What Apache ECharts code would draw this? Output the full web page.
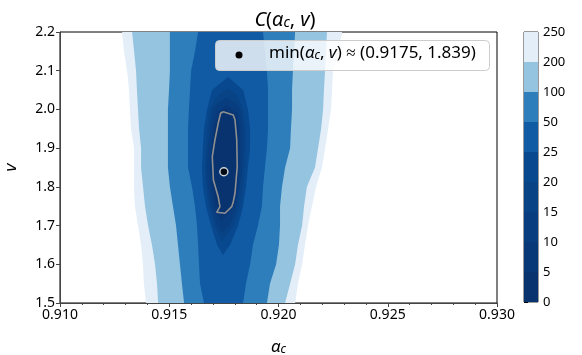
<!DOCTYPE html>
<html>
<head>
<meta charset="utf-8">
<script src="https://cdn.jsdelivr.net/npm/echarts@6/dist/echarts.min.js"></script>
<style>
  html, body { margin: 0; padding: 0; background: #fff; }
  #chart { width: 582px; height: 355px; }
</style>
</head>
<body>
<div id="chart"></div>
<script>
// axis ticks
var xTicks = [0.910, 0.915, 0.920, 0.925, 0.930];
var yTicks = [1.5, 1.6, 1.7, 1.8, 1.9, 2.0, 2.1, 2.2];

// colour bar levels and band colours (Blues_r, bottom to top)
var cbLevels = ["0", "5", "10", "15", "20", "25", "50", "100", "200", "250"];
var cbColors = ["#08336f", "#083877", "#083d7f", "#084386", "#08488e",
                "#105ba4", "#2e7ebc", "#94c4df", "#e3eef9"];
var cbBands = [0, 1, 2, 3, 4, 5, 6, 7, 8];

// contour boundaries: v rows and alpha_c left/right edges per level
var rowsOuter = [1.50, 1.55, 1.60, 1.65, 1.70, 1.75, 1.80, 1.85, 1.90, 1.95, 2.00, 2.05, 2.10, 2.15, 2.20];

var lev250L = [0.91394, 0.91384, 0.91380, 0.91371, 0.91357, 0.91343, 0.91339, 0.91339, 0.91339, 0.91325, 0.91320, 0.91316, 0.91307, 0.91293, 0.91284];
var lev250R = [0.92076, 0.92089, 0.92108, 0.92121, 0.92135, 0.92153, 0.92172, 0.92199, 0.92213, 0.92227, 0.92240, 0.92245, 0.92249, 0.92272, 0.92291];

var lev200L = [0.91449, 0.91444, 0.91435, 0.91421, 0.91403, 0.91389, 0.91380, 0.91371, 0.91371, 0.91362, 0.91357, 0.91352, 0.91348, 0.91339, 0.91330];
var lev200R = [0.92030, 0.92053, 0.92076, 0.92089, 0.92108, 0.92117, 0.92130, 0.92167, 0.92181, 0.92195, 0.92204, 0.92208, 0.92213, 0.92217, 0.92222];

var lev100L = [0.91568, 0.91558, 0.91549, 0.91540, 0.91531, 0.91517, 0.91503, 0.91494, 0.91494, 0.91494, 0.91494, 0.91499, 0.91503, 0.91503, 0.91503];
var lev100R = [0.91947, 0.91961, 0.91989, 0.92002, 0.92007, 0.92007, 0.92016, 0.92030, 0.92053, 0.92057, 0.92062, 0.92062, 0.92066, 0.92071, 0.92076];

var lev50L = [0.91659, 0.91641, 0.91636, 0.91632, 0.91627, 0.91618, 0.91604, 0.91586, 0.91586, 0.91586, 0.91590, 0.91595, 0.91600, 0.91618, 0.91632];
var lev50R = [0.91838, 0.91851, 0.91870, 0.91883, 0.91906, 0.91924, 0.91929, 0.91938, 0.91947, 0.91952, 0.91952, 0.91952, 0.91947, 0.91938, 0.91929];

var rows25 = [1.624, 1.65, 1.70, 1.75, 1.80, 1.85, 1.90, 1.95, 2.00, 2.05, 2.084];
var lev25L = [0.91746, 0.91719, 0.91691, 0.91668, 0.91654, 0.91650, 0.91654, 0.91659, 0.91673, 0.91696, 0.91769];
var lev25R = [0.91746, 0.91778, 0.91815, 0.91838, 0.91851, 0.91860, 0.91870, 0.91870, 0.91860, 0.91838, 0.91769];

var rows20 = [1.658, 1.70, 1.75, 1.80, 1.85, 1.90, 1.95, 2.00, 2.037, 2.055];
var lev20L = [0.91741, 0.91705, 0.91682, 0.91668, 0.91664, 0.91668, 0.91673, 0.91686, 0.91723, 0.91769];
var lev20R = [0.91741, 0.91796, 0.91824, 0.91838, 0.91847, 0.91851, 0.91851, 0.91838, 0.91810, 0.91769];

var rows15 = [1.683, 1.70, 1.75, 1.80, 1.85, 1.90, 1.95, 2.00, 2.017, 2.030];
var lev15L = [0.91741, 0.91719, 0.91691, 0.91677, 0.91673, 0.91677, 0.91686, 0.91700, 0.91723, 0.91764];
var lev15R = [0.91741, 0.91778, 0.91810, 0.91824, 0.91833, 0.91838, 0.91838, 0.91824, 0.91805, 0.91764];

var rows10 = [1.709, 1.75, 1.80, 1.85, 1.90, 1.95, 1.993, 2.011];
var lev10L = [0.91737, 0.91705, 0.91691, 0.91686, 0.91691, 0.91700, 0.91719, 0.91760];
var lev10R = [0.91737, 0.91801, 0.91815, 0.91824, 0.91824, 0.91824, 0.91810, 0.91760];

var rows5 = [1.727, 1.75, 1.80, 1.85, 1.90, 1.95, 1.986, 1.999];
var lev5L = [0.91741, 0.91719, 0.91700, 0.91696, 0.91700, 0.91709, 0.91728, 0.91755];
var lev5R = [0.91741, 0.91792, 0.91805, 0.91810, 0.91815, 0.91815, 0.91801, 0.91755];

// gray contour line (closed)
var lineAlpha = [0.91747, 0.91793, 0.91801, 0.91809, 0.91811, 0.91801, 0.91793, 0.91786, 0.91755, 0.91717,
                 0.91732, 0.91724, 0.91702, 0.91697, 0.91709, 0.91724, 0.91735, 0.91747];
var lineV = [1.9941, 1.9856, 1.9727, 1.9210, 1.8521, 1.7841, 1.7617, 1.7488, 1.7317, 1.7343,
             1.7488, 1.7746, 1.8177, 1.8779, 1.9210, 1.9642, 1.9900, 1.9941];

// minimum point
var minAlpha = [0.9175];
var minV = [1.839];

var FONT = "Noto Sans";

function bandSeries(rows, left, right, color) {
  return {
    type: "custom",
    xAxisIndex: 0,
    yAxisIndex: 0,
    silent: true,
    clip: true,
    z: 1,
    data: [[left[0], rows[0]]],
    renderItem: function (params, api) {
      var pts = [];
      for (var i = 0; i < rows.length; i++) pts.push(api.coord([left[i], rows[i]]));
      for (var j = rows.length - 1; j >= 0; j--) pts.push(api.coord([right[j], rows[j]]));
      return { type: "polygon", shape: { points: pts }, style: { fill: color } };
    }
  };
}

var chart = echarts.init(document.getElementById("chart"), null, { renderer: "canvas" });

var series = [
  bandSeries(rowsOuter, lev250L, lev250R, cbColors[8]),
  bandSeries(rowsOuter, lev200L, lev200R, cbColors[7]),
  bandSeries(rowsOuter, lev100L, lev100R, cbColors[6]),
  bandSeries(rowsOuter, lev50L, lev50R, cbColors[5]),
  bandSeries(rows25, lev25L, lev25R, cbColors[4]),
  bandSeries(rows20, lev20L, lev20R, cbColors[3]),
  bandSeries(rows15, lev15L, lev15R, cbColors[2]),
  bandSeries(rows10, lev10L, lev10R, cbColors[1]),
  bandSeries(rows5, lev5L, lev5R, cbColors[0]),
  {
    type: "line",
    xAxisIndex: 0,
    yAxisIndex: 0,
    silent: true,
    showSymbol: false,
    z: 2,
    data: lineAlpha.map(function (a, i) { return [a, lineV[i]]; }),
    lineStyle: { color: "#909090", width: 1.6 }
  },
  {
    type: "scatter",
    xAxisIndex: 0,
    yAxisIndex: 0,
    z: 3,
    data: minAlpha.map(function (a, i) { return [a, minV[i]]; }),
    symbolSize: 8,
    itemStyle: { color: "#000", borderColor: "#fff", borderWidth: 1.5 }
  },
  {
    // colour bar
    type: "custom",
    xAxisIndex: 1,
    yAxisIndex: 1,
    silent: true,
    data: cbBands.map(function (b) { return [0, b]; }),
    renderItem: function (params, api) {
      var b = api.value(1);
      var p0 = api.coord([0, b]);
      var p1 = api.coord([1, b + 1]);
      return {
        type: "rect",
        shape: { x: p0[0], y: p1[1], width: p1[0] - p0[0], height: p0[1] - p1[1] },
        style: { fill: cbColors[b] }
      };
    }
  }
];

var legendRich = {
  n: { fontFamily: FONT, fontSize: 17, fill: "#000", verticalAlign: "bottom", lineHeight: 21 },
  i: { fontFamily: FONT, fontSize: 17, fontStyle: "italic", fill: "#000", verticalAlign: "bottom", lineHeight: 21 },
  s: { fontFamily: FONT, fontSize: 12, fontStyle: "italic", fill: "#000", verticalAlign: "bottom", lineHeight: 14 }
};

var option = {
  animation: false,
  title: {
    text: "{i|C}{n|(}{i|α}{s|c}{n|, }{i|v}{n|)}",
    left: 280,
    top: 0,
    textAlign: "center",
    textStyle: {
      fontWeight: "normal",
      rich: {
        i: { fontFamily: FONT, fontSize: 20, fontStyle: "italic", fontWeight: "normal", color: "#000", verticalAlign: "bottom", lineHeight: 25 },
        n: { fontFamily: FONT, fontSize: 20, fontWeight: "normal", color: "#000", verticalAlign: "bottom", lineHeight: 25 },
        s: { fontFamily: FONT, fontSize: 14, fontStyle: "italic", fontWeight: "normal", color: "#000", verticalAlign: "bottom", lineHeight: 16 }
      }
    }
  },
  grid: [
    { left: 60, top: 32, width: 437, height: 271, outerBoundsMode: "none", show: true, borderColor: "#000", borderWidth: 1, backgroundColor: "transparent" },
    { left: 524, top: 32, width: 14, height: 270, outerBoundsMode: "none", show: true, borderColor: "#000", borderWidth: 0.8, backgroundColor: "transparent" }
  ],
  xAxis: [
    {
      gridIndex: 0,
      type: "value",
      min: xTicks[0],
      max: xTicks[xTicks.length - 1],
      interval: 0.005,
      name: "{i|α}{s|c}",
      nameLocation: "middle",
      nameGap: 32,
      nameTextStyle: {
        rich: {
          i: { fontFamily: FONT, fontSize: 17, fontStyle: "italic", color: "#000", verticalAlign: "bottom", lineHeight: 21 },
          s: { fontFamily: FONT, fontSize: 12, fontStyle: "italic", color: "#000", verticalAlign: "bottom", lineHeight: 14 }
        }
      },
      axisLine: { show: true, lineStyle: { color: "#444", width: 1 } },
      axisTick: { show: true, length: 4, lineStyle: { color: "#444" } },
      minorTick: { show: true, splitNumber: 5, length: 2, lineStyle: { color: "#444" } },
      splitLine: { show: false },
      axisLabel: {
        color: "#000", fontFamily: FONT, fontSize: 14, margin: 5,
        formatter: function (v) { return v.toFixed(3); }
      }
    },
    {
      gridIndex: 1,
      type: "value",
      min: 0,
      max: 1,
      show: false
    }
  ],
  yAxis: [
    {
      gridIndex: 0,
      type: "value",
      min: yTicks[0],
      max: yTicks[yTicks.length - 1],
      interval: 0.1,
      name: "v",
      nameLocation: "middle",
      nameRotate: 90,
      nameGap: 40,
      nameTextStyle: { fontFamily: FONT, fontSize: 17, fontStyle: "italic", color: "#000" },
      axisLine: { show: true, lineStyle: { color: "#444", width: 1 } },
      axisTick: { show: true, length: 4, lineStyle: { color: "#444" } },
      splitLine: { show: false },
      axisLabel: {
        color: "#000", fontFamily: FONT, fontSize: 14, margin: 5,
        formatter: function (v) { return v.toFixed(1); }
      }
    },
    {
      gridIndex: 1,
      type: "value",
      position: "right",
      min: 0,
      max: 9,
      interval: 1,
      axisLine: { show: false },
      axisTick: { show: true, length: 4, lineStyle: { color: "#000" } },
      splitLine: { show: false },
      axisLabel: {
        color: "#000", fontFamily: FONT, fontSize: 13, margin: 5,
        formatter: function (v) { return cbLevels[Math.round(v)]; }
      }
    }
  ],
  graphic: [
    {
      type: "rect",
      left: 215,
      top: 40,
      z: 100,
      shape: { x: 0, y: 0, width: 274, height: 30, r: 4 },
      style: { fill: "rgba(255,255,255,0.8)", stroke: "#cccccc", lineWidth: 1 }
    },
    {
      type: "circle",
      left: 235.5,
      top: 51.5,
      z: 101,
      shape: { cx: 3.5, cy: 3.5, r: 3.5 },
      style: { fill: "#000" }
    },
    {
      type: "text",
      left: 269,
      top: 45,
      z: 101,
      style: {
        text: "{n|min(}{i|α}{s|c}{n|, }{i|v}{n|) ≈ (0.9175, 1.839)}",
        rich: legendRich
      }
    }
  ],
  series: series
};

chart.setOption(option);
</script>
</body>
</html>
